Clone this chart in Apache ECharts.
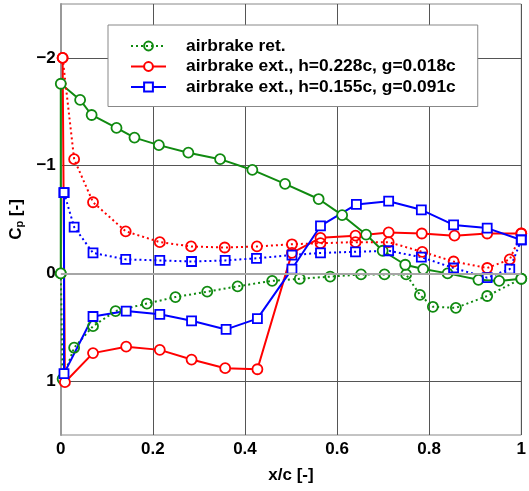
<!DOCTYPE html>
<html>
<head>
<meta charset="utf-8">
<script src="https://cdn.jsdelivr.net/npm/echarts@6/dist/echarts.min.js"></script>
<style>
  html, body { margin: 0; padding: 0; background: #fff; }
  #chart { width: 529px; height: 491px; }
</style>
</head>
<body>
<div id="chart"></div>
<script>
// Cp distribution, values
const legendNames = [
  'airbrake ret.',
  'airbrake ext., h=0.228c, g=0.018c',
  'airbrake ext., h=0.155c, g=0.091c'
];

// airbrake retracted
const retUpperX  = [0, 0, 0.042, 0.067, 0.121, 0.16, 0.213, 0.277, 0.346, 0.416, 0.487, 0.56, 0.611, 0.663, 0.699, 0.748, 0.787, 0.84, 0.907, 0.952, 1.0];
const retUpperCp = [0, -1.76, -1.61, -1.47, -1.35, -1.26, -1.19, -1.12, -1.06, -0.96, -0.83, -0.69, -0.54, -0.36, -0.21, -0.08, -0.04, 0.0, 0.06, 0.07, 0.05];
const retLowerX  = [0, 0.004, 0.029, 0.07, 0.119, 0.187, 0.249, 0.318, 0.384, 0.459, 0.519, 0.585, 0.652, 0.703, 0.75, 0.78, 0.808, 0.858, 0.926, 1.0];
const retLowerCp = [0, 0.98, 0.69, 0.49, 0.35, 0.28, 0.22, 0.17, 0.12, 0.07, 0.05, 0.03, 0.01, 0.01, 0.01, 0.20, 0.31, 0.32, 0.21, 0.05];

// airbrake extended, h=0.228c
const ext1SolidX  = [0.004, 0.009, 0.07, 0.142, 0.215, 0.284, 0.357, 0.427, 0.502, 0.564, 0.64, 0.712, 0.784, 0.855, 0.926, 1.0];
const ext1SolidCp = [-2.0, 1.01, 0.74, 0.68, 0.71, 0.80, 0.88, 0.89, -0.19, -0.33, -0.35, -0.38, -0.37, -0.35, -0.37, -0.37];
const ext1DotX    = [0.004, 0.029, 0.07, 0.141, 0.215, 0.283, 0.356, 0.426, 0.502, 0.564, 0.64, 0.712, 0.785, 0.853, 0.926, 0.975, 1.0];
const ext1DotCp   = [-2.0, -1.06, -0.66, -0.39, -0.29, -0.25, -0.24, -0.25, -0.27, -0.28, -0.29, -0.29, -0.2, -0.11, -0.05, -0.13, -0.37];

// airbrake extended, h=0.155c
const ext2SolidX  = [0.007, 0.007, 0.07, 0.142, 0.215, 0.284, 0.359, 0.427, 0.502, 0.564, 0.642, 0.712, 0.783, 0.853, 0.926, 1.0];
const ext2SolidCp = [-0.75, 0.93, 0.40, 0.35, 0.38, 0.44, 0.52, 0.42, -0.04, -0.44, -0.64, -0.67, -0.59, -0.45, -0.42, -0.31];
const ext2DotX    = [0.007, 0.029, 0.07, 0.141, 0.215, 0.284, 0.357, 0.425, 0.502, 0.564, 0.64, 0.712, 0.783, 0.853, 0.926, 0.975, 1.0];
const ext2DotCp   = [-0.75, -0.43, -0.19, -0.13, -0.12, -0.11, -0.12, -0.14, -0.17, -0.19, -0.20, -0.21, -0.15, -0.05, 0.04, -0.04, -0.31];

const yTicks = [-2, -1, 0, 1];

const GREEN = '#108a10';
const RED = '#ff0000';
const BLUE = '#0000ff';
const FONT = 'Liberation Sans, Arial, sans-serif';

const pairs = (xs, ys) => xs.map((x, i) => [x, ys[i]]);

const makeSeries = (name, xs, ys, color, dotted, symbol, extra) => Object.assign({
  name: name,
  type: 'line',
  data: pairs(xs, ys),
  symbol: symbol,
  symbolSize: symbol === 'rect' ? 9 : 10,
  showAllSymbol: true,
  lineStyle: { color: color, width: 2, type: dotted ? [2, 3] : 'solid' },
  itemStyle: {
    color: dotted ? 'rgba(255,255,255,0)' : '#fff',
    borderColor: color,
    borderWidth: 1.8
  },
  emphasis: { disabled: true },
  animation: false
}, extra || {});

const chart = echarts.init(document.getElementById('chart'));

const option = {
  animation: false,
  grid: {
    left: 60.5, right: 1.5, top: 4, bottom: 56,
    show: true, borderColor: '#888', borderWidth: 1
  },
  legend: {
    data: legendNames,
    orient: 'vertical',
    left: 108, top: 25,
    padding: [12.5, 22, 11, 22],
    itemWidth: 35, itemHeight: 11, itemGap: 3.5,
    backgroundColor: '#fff',
    borderColor: '#888', borderWidth: 1, borderRadius: 0,
    textStyle: { fontFamily: FONT, fontWeight: 'bold', fontSize: 17.4, color: '#000', padding: [0, 0, 0, 15] }
  },
  xAxis: {
    type: 'value',
    min: 0, max: 1, interval: 0.2,
    name: 'x/c [-]',
    nameLocation: 'middle',
    nameGap: 32,
    nameTextStyle: { fontFamily: FONT, fontWeight: 'bold', fontSize: 17, color: '#000' },
    axisLine: { show: true, lineStyle: { color: '#888', width: 1 } },
    axisTick: { show: false },
    axisLabel: { fontFamily: FONT, fontWeight: 'bold', fontSize: 17, color: '#000', margin: 6 },
    splitLine: { show: true, lineStyle: { color: '#555', width: 1 } }
  },
  yAxis: {
    type: 'value',
    inverse: true,
    min: -2.5, max: 1.5,
    name: 'C{sub|p} [-]',
    nameLocation: 'middle',
    nameGap: 34,
    nameTextStyle: {
      fontFamily: FONT, fontWeight: 'bold', fontSize: 17, color: '#000',
      rich: { sub: { fontFamily: FONT, fontWeight: 'bold', fontSize: 11, color: '#000', verticalAlign: 'bottom', padding: [7, 0, 0, 0] } }
    },
    axisLine: { show: true, lineStyle: { color: '#999', width: 2 } },
    axisTick: { show: false, customValues: yTicks },
    axisLabel: {
      customValues: yTicks,
      fontFamily: FONT, fontWeight: 'bold', fontSize: 17, color: '#000', margin: 5,
      formatter: v => v < 0 ? '\u2212' + Math.abs(v) : String(v)
    },
    splitLine: { show: true, lineStyle: { color: '#555', width: 1 } }
  },
  series: [
    makeSeries(legendNames[0], retLowerX, retLowerCp, GREEN, true, 'circle', {
      markLine: {
        silent: true, symbol: 'none', label: { show: false },
        lineStyle: { color: '#a6a6a6', width: 2, type: 'solid' },
        data: [{ yAxis: 0 }]
      }
    }),
    makeSeries(legendNames[0], retUpperX, retUpperCp, GREEN, false, 'circle'),
    makeSeries(legendNames[1], ext1SolidX, ext1SolidCp, RED, false, 'circle'),
    makeSeries(legendNames[1], ext1DotX, ext1DotCp, RED, true, 'circle'),
    makeSeries(legendNames[2], ext2SolidX, ext2SolidCp, BLUE, false, 'rect'),
    makeSeries(legendNames[2], ext2DotX, ext2DotCp, BLUE, true, 'rect')
  ]
};

chart.setOption(option);
window.addEventListener('resize', () => chart.resize());
</script>
</body>
</html>
